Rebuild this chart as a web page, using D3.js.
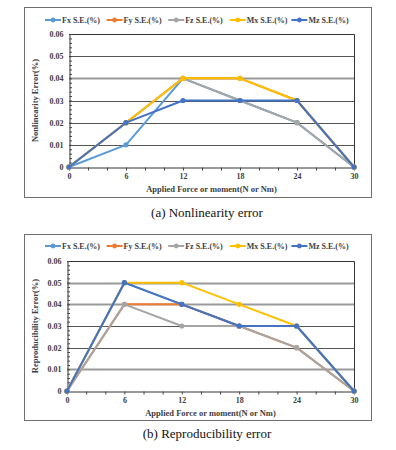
<!DOCTYPE html>
<html>
<head>
<meta charset="utf-8">
<script src="https://cdn.jsdelivr.net/npm/d3@7"></script>
<style>
  body { margin: 0; background: #fff; }
  svg { display: block; }
  svg text { font-family: "Liberation Serif", "Times New Roman", serif; }
</style>
</head>
<body>
<div class="vis"></div>
<script>
(function() {
  'use strict';

  // applied load steps (N or Nm)
  var loads = [0, 6, 12, 18, 24, 30];
  var seriesNames = ['Fx S.E.(%)', 'Fy S.E.(%)', 'Fz S.E.(%)', 'Mx S.E.(%)', 'Mz S.E.(%)'];
  var colors = ['#5b9bd5', '#ed7d31', '#a5a5a5', '#ffc000', '#4472c4'];
  var yTicks = [0, 0.01, 0.02, 0.03, 0.04, 0.05, 0.06];

  // (a) nonlinearity error
  var nlFx = [0, 0.01, 0.04, 0.03, 0.02, 0];
  var nlFy = [0, 0.02, 0.04, 0.04, 0.03, 0];
  var nlFz = [0, 0.02, 0.04, 0.03, 0.02, 0];
  var nlMx = [0, 0.02, 0.04, 0.04, 0.03, 0];
  var nlMz = [0, 0.02, 0.03, 0.03, 0.03, 0];

  // (b) reproducibility error
  var rpFx = [0, 0.05, 0.04, 0.03, 0.03, 0];
  var rpFy = [0, 0.04, 0.04, 0.03, 0.02, 0];
  var rpFz = [0, 0.04, 0.03, 0.03, 0.02, 0];
  var rpMx = [0, 0.05, 0.05, 0.04, 0.03, 0];
  var rpMz = [0, 0.05, 0.04, 0.03, 0.03, 0];

  var svg = d3.select('.vis').append('svg')
    .attr('width', 396)
    .attr('height', 450);

  function drawChart(cfg) {
    var g = svg.append('g');

    g.append('rect')
      .attr('x', cfg.box[0] + 0.5).attr('y', cfg.box[1] + 0.5)
      .attr('width', cfg.box[2]).attr('height', cfg.box[3])
      .attr('fill', '#fff').attr('stroke', '#6f6f6f').attr('stroke-width', 1);

    var x = d3.scaleLinear().domain([0, 30]).range([cfg.plot.l, cfg.plot.r]);
    var y = d3.scaleLinear().domain([0, 0.06]).range([cfg.plot.b, cfg.plot.t]);

    // gridlines
    g.selectAll('.grid')
      .data(yTicks.slice(1, 6))
      .enter().append('line')
        .attr('x1', x(0)).attr('x2', x(30))
        .attr('y1', function(d) { return Math.round(y(d)) + 0.5; })
        .attr('y2', function(d) { return Math.round(y(d)) + 0.5; })
        .attr('stroke', function(d) { return cfg.softGrid.indexOf(d) >= 0 ? '#9a9a9a' : '#555'; })
        .attr('stroke-width', function(d) { return cfg.softGrid.indexOf(d) >= 0 ? 2.2 : 1.2; });

    // plot frame (top and right)
    g.append('path')
      .attr('d', 'M' + x(0) + ',' + (Math.round(y(0.06)) + 0.5) + 'H' + (x(30) + 0.5) + 'V' + y(0))
      .attr('fill', 'none').attr('stroke', '#333').attr('stroke-width', 1);

    // y axis
    var yAxis = d3.axisLeft(y).tickValues(yTicks).tickSize(0).tickPadding(6)
      .tickFormat(function(d) { return d === 0 ? '0' : d3.format('.2f')(d); });
    var ya = g.append('g').attr('transform', 'translate(' + (Math.round(x(0)) + 0.5) + ',0)').call(yAxis);
    ya.select('.domain').attr('stroke', '#333');
    ya.selectAll('text').style('font-family', null).attr('font-family', null)
      .attr('font-weight', 'bold').attr('font-size', 8).attr('fill', '#404040');
    g.append('g').attr('transform', 'translate(' + (Math.round(x(0)) + 0.5) + ',0)')
      .call(d3.axisRight(y).ticks(30).tickSize(2.5).tickFormat(''))
      .call(function(s) { s.select('.domain').remove(); s.selectAll('line').attr('stroke', '#444'); });

    // x axis
    var xAxis = d3.axisBottom(x).tickValues(loads).tickSize(0).tickPadding(6);
    var xa = g.append('g').attr('transform', 'translate(0,' + (Math.round(y(0)) + 0.5) + ')').call(xAxis);
    xa.select('.domain').attr('stroke', '#333');
    xa.selectAll('text').attr('font-family', null)
      .attr('font-weight', 'bold').attr('font-size', 8).attr('fill', '#404040');
    g.append('g').attr('transform', 'translate(0,' + (Math.round(y(0)) + 0.5) + ')')
      .call(d3.axisBottom(x).ticks(10).tickSize(3).tickFormat(''))
      .call(function(s) { s.select('.domain').remove(); s.selectAll('line').attr('stroke', '#444'); });
    ya.attr('font-family', null);
    xa.attr('font-family', null);

    // series
    var line = d3.line()
      .x(function(d, i) { return x(loads[i]); })
      .y(function(d) { return y(d); });

    cfg.series.forEach(function(vals, k) {
      g.append('path')
        .datum(vals)
        .attr('d', line)
        .attr('fill', 'none')
        .attr('stroke', colors[k])
        .attr('stroke-width', 2)
        .attr('stroke-linejoin', 'round');
      g.selectAll('.pt' + k)
        .data(vals)
        .enter().append('circle')
          .attr('cx', function(d, i) { return x(loads[i]); })
          .attr('cy', function(d) { return y(d); })
          .attr('r', 2.6)
          .attr('fill', colors[k]);
    });

    // legend
    var leg = g.selectAll('.leg')
      .data(seriesNames)
      .enter().append('g')
        .attr('transform', function(d, i) { return 'translate(' + (45 + i * 61.6) + ',' + cfg.legendY + ')'; });
    leg.append('line')
      .attr('x1', 0).attr('x2', 16).attr('y1', 0).attr('y2', 0)
      .attr('stroke', function(d, i) { return colors[i]; }).attr('stroke-width', 2);
    leg.append('circle')
      .attr('cx', 8).attr('cy', 0).attr('r', 2.4)
      .attr('fill', function(d, i) { return colors[i]; });
    leg.append('text')
      .attr('x', 17).attr('y', 0).attr('dy', '0.35em')
      .attr('font-weight', 'bold').attr('font-size', 8)
      .attr('fill', '#404040')
      .text(function(d) { return d; });

    // axis titles
    g.append('text')
      .attr('x', (cfg.plot.l + cfg.plot.r) / 2).attr('y', cfg.xTitleY).attr('dy', '0.35em')
      .attr('text-anchor', 'middle')
      .attr('font-weight', 'bold').attr('font-size', 8.5)
      .attr('fill', '#404040')
      .text('Applied Force or moment(N or Nm)');
    g.append('text')
      .attr('transform', 'translate(' + cfg.yTitleX + ',' + (cfg.plot.t + cfg.plot.b) / 2 + ') rotate(-90)')
      .attr('dy', '0.35em')
      .attr('text-anchor', 'middle')
      .attr('font-weight', 'bold').attr('font-size', 8.5)
      .attr('fill', '#404040')
      .text(cfg.yTitle);

    // caption
    svg.append('text')
      .attr('x', 207).attr('y', cfg.captionY).attr('dy', '0.35em')
      .attr('text-anchor', 'middle')
      .attr('font-size', 13)
      .attr('fill', '#111')
      .text(cfg.caption);
  }

  drawChart({
    box: [24, 7, 347, 190],
    plot: {l: 69, r: 354, t: 34, b: 167},
    legendY: 20,
    xTitleY: 189,
    yTitleX: 35,
    captionY: 212,
    softGrid: [0.04],
    yTitle: 'Nonlinearity Error(%)',
    caption: '(a) Nonlinearity error',
    series: [nlFx, nlFy, nlFz, nlMx, nlMz]
  });

  drawChart({
    box: [24, 234, 347, 186],
    plot: {l: 67, r: 354, t: 261, b: 391},
    legendY: 246,
    xTitleY: 413,
    yTitleX: 35,
    captionY: 433,
    softGrid: [0.05, 0.04, 0.01],
    yTitle: 'Reproducibility Error(%)',
    caption: '(b) Reproducibility error',
    series: [rpFx, rpFy, rpFz, rpMx, rpMz]
  });
}());
</script>
</body>
</html>
